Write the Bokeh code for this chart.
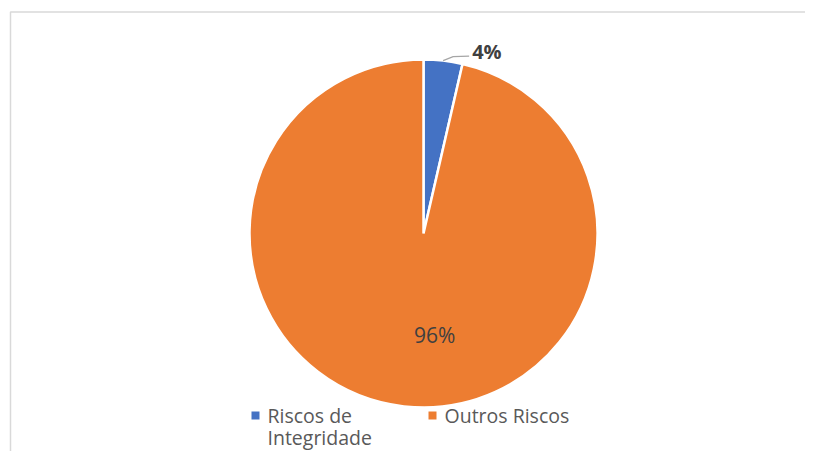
import math
from bokeh.plotting import figure
from bokeh.models import Range1d, ColumnDataSource
from bokeh.core.properties import value
from bokeh.embed import file_html
from bokeh.resources import INLINE

categories = ["Riscos de Integridade", "Outros Riscos"]
legend_lines = [["Riscos de", "Integridade"], ["Outros Riscos"]]
values = [3.6, 96.4]
colors = ["#4472C4", "#ED7D31"]

W, H = 805, 451
p = figure(width=W, height=H, output_backend="svg", toolbar_location=None,
           x_range=Range1d(0, W), y_range=Range1d(0, H), min_border=0)
p.axis.visible = False
p.grid.visible = False
p.outline_line_color = None
p.background_fill_color = "white"
p.border_fill_color = "white"

# chart frame border
p.line(x=[10, 10, 900], y=[-20, 439.5, 439.5], line_color="#d9d9d9", line_width=1.5)

cx, cy, r = 423, 218, 174
total = sum(values)
angles = []
start = math.pi / 2
for v in values:
    end = start - 2 * math.pi * v / total
    angles.append((start, end))
    start = end

src = ColumnDataSource(dict(
    x=[cx] * len(values), y=[cy] * len(values),
    start=[a[0] for a in angles], end=[a[1] for a in angles],
    color=colors))
p.wedge(x="x", y="y", radius=r, start_angle="start", end_angle="end",
        direction="clock", fill_color="color", line_color="white", line_width=2.5,
        source=src)

pct = [f"{round(100 * v / total)}%" for v in values]

# small slice label (outside with leader)
s0, e0 = angles[0]
mid0 = (s0 + e0) / 2
ax0 = cx + r * math.cos(mid0)
ay0 = cy + r * math.sin(mid0)
p.line(x=[ax0, ax0 + 10, ax0 + 26], y=[ay0, ay0 + 4, ay0 + 4.5],
       line_color="#a6a6a6", line_width=1.2)
p.text(x=[ax0 + 29], y=[ay0 + 9], text=[pct[0]], text_font=value("Open Sans"),
       text_font_style="bold", text_font_size="20px", text_color="#404040",
       text_align="left", text_baseline="middle")

# large slice label (inside)
s1, e1 = angles[1]
mid1 = (s1 + e1) / 2
p.text(x=[cx + 0.6 * r * math.cos(mid1) + 23], y=[cy + 0.6 * r * math.sin(mid1) + 2],
       text=[pct[1]], text_font=value("Open Sans"), text_font_size="21px",
       text_color="#404040", text_align="center", text_baseline="middle")

# legend
leg_x = [255, 432]
leg_y = 451 - 415
line_gap = 22
p.scatter(x=leg_x, y=[leg_y] * 2, marker="square", size=8, fill_color=colors,
          line_color=None)
tx, ty, tt = [], [], []
for lx, lines in zip(leg_x, legend_lines):
    for i, ln in enumerate(lines):
        tx.append(lx + 12)
        ty.append(leg_y - i * line_gap)
        tt.append(ln)
p.text(x=tx, y=ty, text=tt,
       text_font=value("Open Sans"), text_font_size="19.5px", text_color="#595959",
       text_align="left", text_baseline="middle")

open("out.html", "w").write(file_html(p, INLINE))
